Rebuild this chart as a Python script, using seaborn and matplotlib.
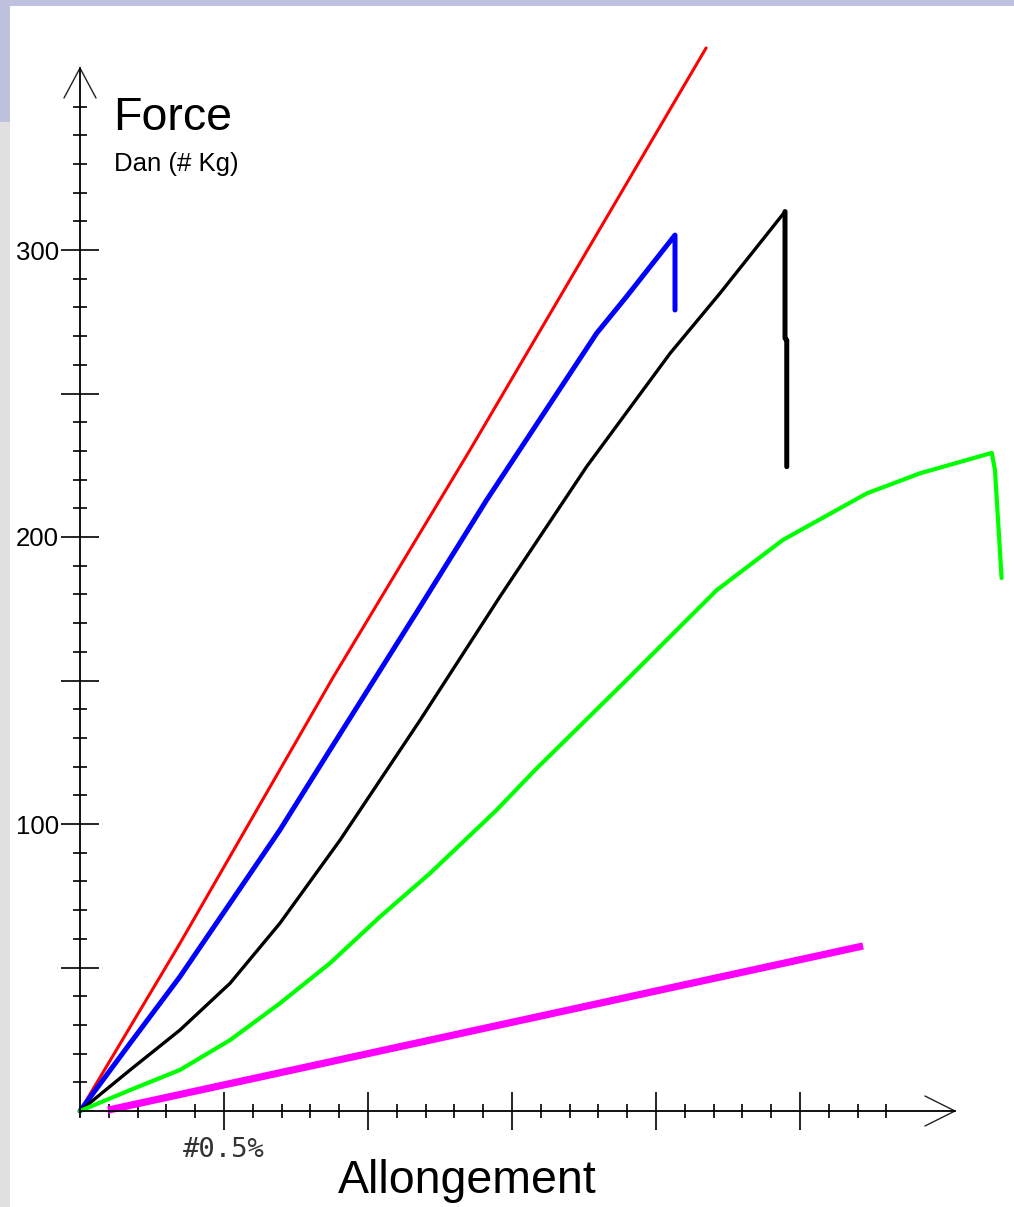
import numpy as np
import matplotlib
matplotlib.use("Agg")
import matplotlib.pyplot as plt
from matplotlib.patches import Rectangle
from matplotlib.ticker import FixedLocator, FixedFormatter
import seaborn as sns

# ---------------- data (elongation in %, force in daN) ----------------
red_x = [0, 0.347, 0.880, 1.354, 1.864, 2.174]
red_y = [0, 58.4, 151.3, 230.3, 317.4, 370.4]

blue_x = [0, 0.174, 0.347, 0.521, 0.694, 0.868, 1.181, 1.412, 1.794, 1.898, 2.066, 2.066]
blue_y = [0, 23.6, 46.8, 72.4, 97.9, 125.8, 175.7, 212.9, 271.0, 283.8, 305.2, 279.1]

black_x = [0, 0.174, 0.347, 0.521, 0.694, 0.903, 1.181, 1.458, 1.759, 2.049, 2.222, 2.448]
black_y = [0, 14.3, 28.2, 44.5, 65.4, 94.4, 136.2, 179.2, 224.5, 264.0, 284.9, 313.4]
black_drop_x = [2.448, 2.448, 2.454, 2.454]
black_drop_y = [313.4, 269.2, 268.6, 224.5]

green_x = [0, 0.174, 0.347, 0.521, 0.694, 0.868, 1.042, 1.215, 1.447, 1.580, 1.898,
           2.211, 2.441, 2.732, 2.917, 3.166, 3.177, 3.200]
green_y = [0, 7.3, 14.3, 24.7, 37.5, 51.5, 67.7, 82.8, 104.9, 118.8, 150.2,
           181.5, 199.0, 215.2, 222.2, 229.3, 223.3, 185.7]

magenta_x = [0.097, 2.719]
magenta_y = [0.3, 57.5]

y_major = [50, 100, 150, 200, 250, 300]
y_major_labels = ["", "100", "", "200", "", "300"]
y_minor = [v for v in range(10, 360, 10) if v % 50 != 0 or v > 300]
x_major = [0.5, 1.0, 1.5, 2.0, 2.5]
x_major_labels = ["#0.5%", "", "", "", ""]
x_minor = [round(0.1 * i, 1) for i in range(1, 29) if i % 5 != 0]

x_axis_end = 3.038
y_axis_end = 363.4

# ---------------- figure ----------------
sns.set_style("white")
plt.rcParams["font.family"] = ["Liberation Sans", "DejaVu Sans"]

W, H = 1014, 1207
fig = plt.figure(figsize=(W / 100, H / 100), dpi=100)
fig.patch.set_facecolor("white")

# border strips of the original screenshot
lav = "#bec2df"
gray = "#e0e0e0"
fig.patches.append(Rectangle((0, 1 - 6 / H), 1, 6 / H, transform=fig.transFigure,
                             facecolor=lav, edgecolor="none", zorder=0))
fig.patches.append(Rectangle((0, 1 - 122 / H), 10 / W, 122 / H, transform=fig.transFigure,
                             facecolor=lav, edgecolor="none", zorder=0))
fig.patches.append(Rectangle((0, 0), 10 / W, 1 - 122 / H, transform=fig.transFigure,
                             facecolor=gray, edgecolor="none", zorder=0))

ax = fig.add_axes([0, 0, 1, 1])
ax.set_facecolor("none")

# mapping: pixel x = 80 + 288*x ; pixel y(top-down) = 1111 - 2.87*y
ax.set_xlim(-80 / 288, (W - 80) / 288)
ax.set_ylim((1111 - H) / 2.87, 1111 / 2.87)

# ---------------- curves ----------------
sns.lineplot(x=red_x, y=red_y, sort=False, estimator=None, color="#ff0000", lw=2.2, ax=ax)
sns.lineplot(x=blue_x, y=blue_y, sort=False, estimator=None, color="#0000ff", lw=3.6, ax=ax)
sns.lineplot(x=black_x, y=black_y, sort=False, estimator=None, color="black", lw=2.4, ax=ax)
sns.lineplot(x=black_drop_x, y=black_drop_y, sort=False, estimator=None, color="black", lw=3.6, ax=ax)
sns.lineplot(x=green_x, y=green_y, sort=False, estimator=None, color="#00ff00", lw=3.0, ax=ax)
sns.lineplot(x=magenta_x, y=magenta_y, sort=False, estimator=None, color="#ff00ff", lw=5.2,
             ax=ax, solid_capstyle="butt")
for ln in ax.lines:
    ln.set_clip_on(False)

# ---------------- axes drawn as arrows ----------------
for s in ["top", "right"]:
    ax.spines[s].set_visible(False)
ax.spines["left"].set_position(("data", 0))
ax.spines["bottom"].set_position(("data", 0))
ax.spines["left"].set_bounds(-2.2, y_axis_end)
ax.spines["bottom"].set_bounds(0, x_axis_end)
for s in ["left", "bottom"]:
    ax.spines[s].set_linewidth(1.3)
    ax.spines[s].set_color("black")

ax.xaxis.set_major_locator(FixedLocator(x_major))
ax.xaxis.set_major_formatter(FixedFormatter(x_major_labels))
ax.xaxis.set_minor_locator(FixedLocator(x_minor))
ax.yaxis.set_major_locator(FixedLocator(y_major))
ax.yaxis.set_major_formatter(FixedFormatter(y_major_labels))
ax.yaxis.set_minor_locator(FixedLocator(y_minor))

ax.tick_params(axis="both", which="both", bottom=True, left=True, top=False, right=False)
ax.tick_params(axis="both", which="major", direction="inout", length=27, width=1.2, color="black")
ax.tick_params(axis="both", which="minor", direction="inout", length=10, width=1.2, color="black")
ax.tick_params(axis="y", which="major", pad=1.5, labelsize=18.5, labelcolor="black")
ax.tick_params(axis="x", which="major", pad=5.5, labelsize=19.5, labelcolor="#333333")
for lab in ax.get_xticklabels():
    lab.set_fontfamily(["DejaVu Sans Mono"])

# arrow heads (chevrons)
dxp, dyp = 1 / 288, 1 / 2.87
ax.plot([-16 * dxp, 0, 16 * dxp],
        [y_axis_end - 30 * dyp, y_axis_end, y_axis_end - 30 * dyp],
        color="#222222", lw=1.0, clip_on=False)
ax.plot([x_axis_end - 30 * dxp, x_axis_end, x_axis_end - 30 * dxp],
        [15 * dyp, 0, -15 * dyp],
        color="#222222", lw=1.0, clip_on=False)

# ---------------- texts ----------------
fig.text(113 / W, 1 - 130 / H, "Force", fontsize=33.5, ha="left", va="baseline", color="black")
fig.text(114 / W, 1 - 171 / H, "Dan (# Kg)", fontsize=18.5, ha="left", va="baseline", color="black")
fig.text(338 / W, 1 - 1193 / H, "Allongement", fontsize=33.5, ha="left", va="baseline", color="black")

fig.savefig("out.png", dpi=100, facecolor=fig.get_facecolor())
